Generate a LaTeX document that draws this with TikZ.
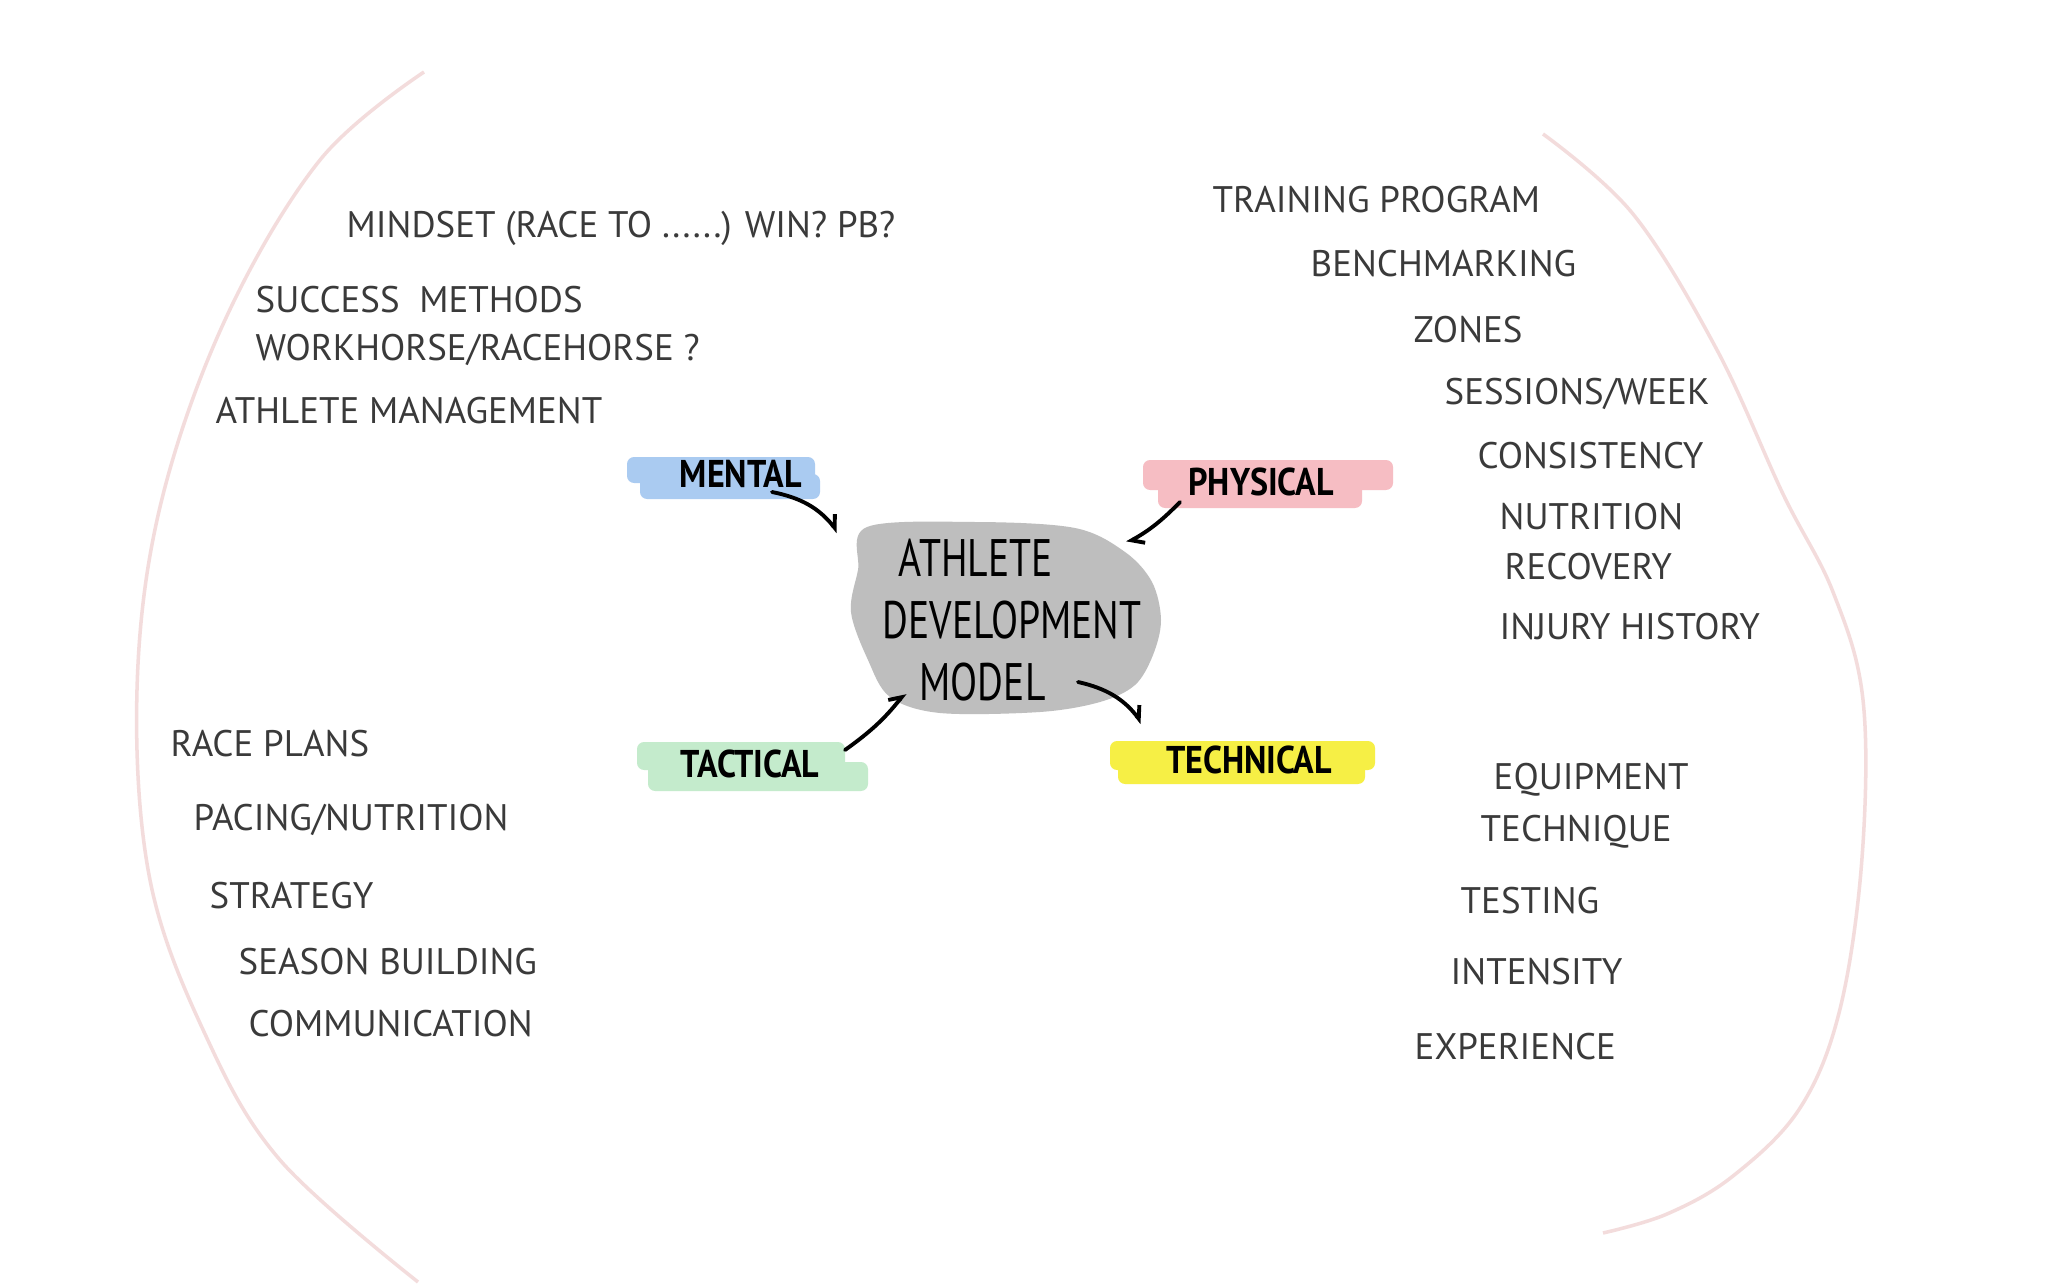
\documentclass[tikz,border=0pt]{standalone}
\usepackage{fontspec}
\setmainfont{PT Sans}
\newfontfamily\markfont[FakeStretch=0.88]{PT Sans}
\newfontfamily\hubfont[FakeStretch=0.75]{PT Sans}
\usepackage{tikz}
\usetikzlibrary{arrows.meta,calc}
\definecolor{adink}{HTML}{3A3A3A}
\definecolor{adarc}{HTML}{F3DCDC}
\definecolor{adgrey}{HTML}{BEBEBE}
\definecolor{adblue}{HTML}{AACBF1}
\definecolor{adpink}{HTML}{F6BDC3}
\definecolor{adgreen}{HTML}{C4EBCC}
\definecolor{adyellow}{HTML}{F6EF45}

\begin{document}
\begin{tikzpicture}[x=0.01cm,y=-0.01cm,
  item/.style={anchor=west, inner sep=0pt, font=\fontsize{10.5}{12}\selectfont, text=adink},
  cat/.style={inner sep=0pt, font=\markfont\bfseries\fontsize{11}{13}\selectfont, text=black},
  pen/.style={black, line width=1.1pt, line cap=round},
  hook/.style={-{Straight Barb[left,length=3pt,width=5pt]}},
  marker/.style={rounded corners=2pt}]
  \fill[white] (0,0) rectangle (2048,1285);
  \useasboundingbox (0,0) rectangle (2048,1285);

  % Outer arcs
  \draw[adarc, line width=1pt] plot[smooth, tension=0.6] coordinates {(424,72) (320,160) (225,320) (160,507) (137,690) (150,880) (205,1034) (280,1160) (418,1282)};
  \draw[adarc, line width=1pt] plot[smooth, tension=0.6] coordinates {(1543,134) (1633,214) (1717,350) (1783,494) (1833,592) (1863,700) (1862,858) (1840,1009) (1800,1108) (1733,1176) (1667,1214) (1603,1233)};

  % Centre blob
  \fill[adgrey] plot[smooth cycle, tension=0.55] coordinates {(867,527) (975,522) (1075,528) (1125,552) (1152,582) (1161,620) (1153,655) (1135,685) (1100,702) (1040,712) (940,713) (890,697) (868,660) (851,612) (858,570)};

  % Marker strokes
  \fill[adblue, marker] (627,457) rectangle (815,483);
  \fill[adblue, marker] (640,474) rectangle (820,499);
  \fill[adpink, marker] (1143,460) rectangle (1393,490);
  \fill[adpink, marker] (1158,482) rectangle (1362,508);
  \fill[adgreen, marker] (637,742) rectangle (845,770);
  \fill[adgreen, marker] (648,762) rectangle (868,791);
  \fill[adyellow, marker] (1110,741) rectangle (1375,770);
  \fill[adyellow, marker] (1118,760) rectangle (1365,784);

  % Centre and categories
  \node[align=left, inner sep=0pt, font=\hubfont\fontsize{15}{17.6}\selectfont] (hub) at (1012,620) {\hspace{0.16cm}ATHLETE\\DEVELOPMENT\\\hspace{0.37cm}MODEL};
  \node[cat] (mental) at (741,474) {MENTAL};
  \node[cat] (physical) at (1261,482) {PHYSICAL};
  \node[cat] (tactical) at (750,764) {TACTICAL};
  \node[cat] (technical) at (1249,760) {TECHNICAL};

  % Connectors
  \draw[pen, hook] ($(mental)+(31,18)$) to[bend left=20] ($(hub)+(-174,-88)$);
  \draw[pen, hook] ($(physical)+(-81,20)$) to[bend left=8] ($(hub)+(115,-77)$);
  \draw[pen, hook] ($(tactical)+(95,-14)$) to[bend right=8] ($(hub)+(-107,73)$);
  \draw[pen, hook] ($(hub)+(66,62)$) to[bend left=20] ($(technical)+(-107,-37)$);

  % Mental list
  \node[item] (mindset) at (346,228) {MINDSET (RACE TO ......) WIN? PB?};
  \node[item] (success) at (255,300) {SUCCESS\ \ METHODS};
  \node[item] (horse) at (255,350) {WORKHORSE/RACEHORSE ?};
  \node[item] (manage) at (215,411) {ATHLETE MANAGEMENT};

  % Physical list
  \node[item] (program) at (1212,200) {TRAINING PROGRAM};
  \node[item] (bench) at (1310,264) {BENCHMARKING};
  \node[item] (zones) at (1413,330) {ZONES};
  \node[item] (sessions) at (1444,394) {SESSIONS/WEEK};
  \node[item] (consist) at (1477,456) {CONSISTENCY};
  \node[item] (nutri) at (1499,517) {NUTRITION};
  \node[item] (recov) at (1504,567) {RECOVERY};
  \node[item] (injury) at (1499,627) {INJURY HISTORY};

  % Technical list
  \node[item] (equip) at (1493,780) {EQUIPMENT};
  \node[item] (techniq) at (1480,832) {TECHNIQUE};
  \node[item] (testing) at (1460,901) {TESTING};
  \node[item] (intens) at (1450,972) {INTENSITY};
  \node[item] (exper) at (1414,1047) {EXPERIENCE};

  % Tactical list
  \node[item] (race) at (170,744) {RACE PLANS};
  \node[item] (pacing) at (193,820) {PACING/NUTRITION};
  \node[item] (strat) at (209,896) {STRATEGY};
  \node[item] (season) at (238,962) {SEASON BUILDING};
  \node[item] (comm) at (248,1024) {COMMUNICATION};
\end{tikzpicture}
\end{document}
